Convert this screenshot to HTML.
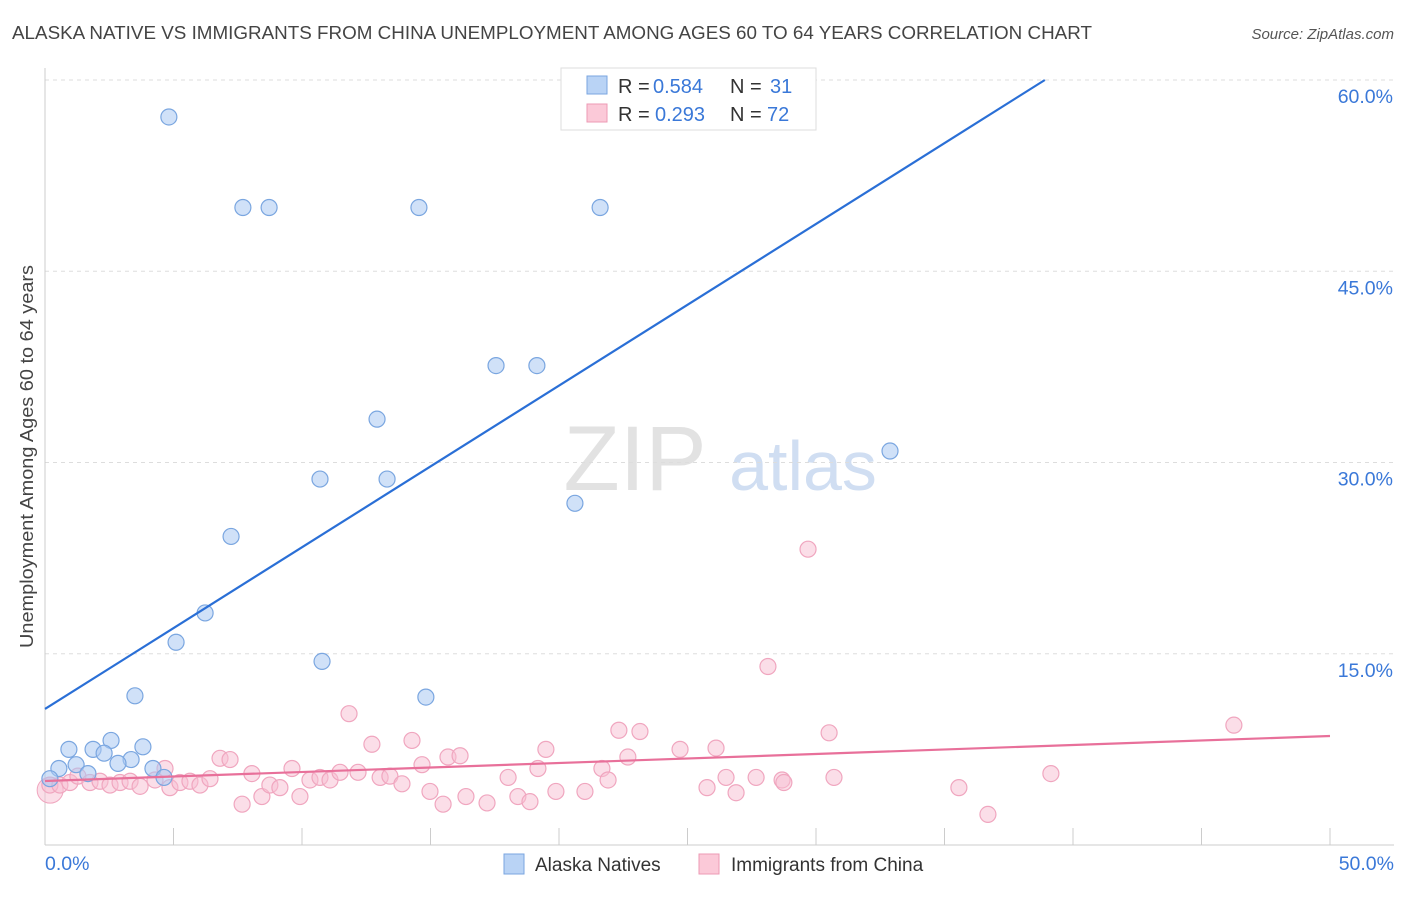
<!DOCTYPE html>
<html><head><meta charset="utf-8">
<style>
body{margin:0;background:#fff;font-family:"Liberation Sans",sans-serif;}
svg text{font-family:"Liberation Sans",sans-serif;}
</style></head>
<body>
<svg id="chart" width="1406" height="892" xmlns="http://www.w3.org/2000/svg">
<text x="12" y="39" font-size="18" fill="#444" textLength="1080" lengthAdjust="spacingAndGlyphs">ALASKA NATIVE VS IMMIGRANTS FROM CHINA UNEMPLOYMENT AMONG AGES 60 TO 64 YEARS CORRELATION CHART</text>
<text x="1394" y="39" font-size="15" fill="#555" text-anchor="end" font-style="italic">Source: ZipAtlas.com</text>
<text transform="translate(33,648) rotate(-90)" font-size="18" fill="#444" textLength="383" lengthAdjust="spacingAndGlyphs">Unemployment Among Ages 60 to 64 years</text>
<g>
<text x="635" y="490" font-size="92" fill="#e2e2e2" font-family="Liberation Serif" text-anchor="middle">ZIP</text>
<text x="803" y="490" font-size="70" fill="#d0def2" text-anchor="middle">atlas</text>
</g>
<g id="grid"></g><g id="axes"></g><g id="pts"></g><g id="lines"></g>
<g>
<rect x="561" y="68" width="255" height="62" fill="#fff" stroke="#ddd"/>
<rect x="587" y="76" width="20" height="18" fill="#b9d3f5" stroke="#7aa6e0"/>
<text x="618" y="93" font-size="20" fill="#333">R =</text>
<text x="653" y="93" font-size="20" fill="#3a78d8">0.584</text>
<text x="730" y="93" font-size="20" fill="#333">N =</text>
<text x="770" y="93" font-size="20" fill="#3a78d8">31</text>
<rect x="587" y="104" width="20" height="18" fill="#fbc9d8" stroke="#ec9ab4"/>
<text x="618" y="121" font-size="20" fill="#333">R =</text>
<text x="655" y="121" font-size="20" fill="#3a78d8">0.293</text>
<text x="730" y="121" font-size="20" fill="#333">N =</text>
<text x="767" y="121" font-size="20" fill="#3a78d8">72</text>
</g>
<g>
<rect x="504" y="854" width="20" height="20" fill="#b9d3f5" stroke="#7aa6e0"/>
<text x="535" y="871" font-size="19" fill="#333">Alaska Natives</text>
<rect x="699" y="854" width="20" height="20" fill="#fbc9d8" stroke="#ec9ab4"/>
<text x="731" y="871" font-size="19" fill="#333">Immigrants from China</text>
</g>
</svg>
<script>
const yTicks=[15,30,45,60];
const yTickLabels=["15.0%","30.0%","45.0%","60.0%"];
const xTicks=[0,5,10,15,20,25,30,35,40,45,50];
const blueX=[4.82,7.70,8.72,14.55,21.6,17.55,19.14,12.92,10.70,13.31,32.88,20.62,7.24,6.23,5.10,10.78,3.50,14.82,0.93,1.87,2.57,3.81,3.35,2.30,1.21,2.84,0.54,1.67,4.20,4.63,0.19];
const blueY=[57.1,50,50,50,50,37.6,37.6,33.4,28.7,28.7,30.9,26.8,24.2,18.2,15.9,14.4,11.7,11.6,7.5,7.5,8.2,7.7,6.7,7.2,6.3,6.4,6.0,5.6,6.0,5.3,5.2];
const pinkX=[0.19,0.58,0.97,1.28,1.75,2.14,2.53,2.92,3.31,3.70,4.28,4.67,4.86,5.25,5.64,6.03,6.42,6.81,7.20,7.67,8.05,8.44,8.75,9.14,9.61,9.92,10.31,10.70,11.09,11.48,11.83,12.18,12.72,13.04,13.42,13.89,14.28,14.67,14.98,15.49,15.68,16.15,16.38,17.20,18.02,18.40,18.87,19.18,19.49,19.88,21.01,21.67,21.91,22.33,22.68,23.15,24.71,25.76,26.11,26.50,26.89,27.67,28.13,28.68,28.75,29.69,30.51,30.70,35.56,36.69,39.14,46.26];
const pinkY=[4.7,4.7,4.9,5.4,4.9,5.0,4.7,4.9,5.0,4.6,5.1,6.0,4.5,4.9,5.0,4.7,5.2,6.8,6.7,3.2,5.6,3.8,4.7,4.5,6.0,3.8,5.1,5.3,5.1,5.7,10.3,5.7,7.9,5.3,5.4,4.8,8.2,6.3,4.2,3.2,6.9,7.0,3.8,3.3,5.3,3.8,3.4,6.0,7.5,4.2,4.2,6.0,5.1,9.0,6.9,8.9,7.5,4.5,7.6,5.3,4.1,5.3,14.0,5.1,4.9,23.2,8.8,5.3,4.5,2.4,5.6,9.4];
const blueFit=[10.67,1.268];
const pinkFit=[5.02,0.0706];
const NS="http://www.w3.org/2000/svg";
const xs=v=>45+v*25.7, ys=v=>845-v*12.75;
function mk(parent,tag,attrs){const e=document.createElementNS(NS,tag);for(const k in attrs)e.setAttribute(k,attrs[k]);document.getElementById(parent).appendChild(e);return e;}
yTicks.forEach((t,i)=>{
 const g=mk('grid','line',{x1:45,x2:1394,y1:ys(t),y2:ys(t),stroke:'#ddd','stroke-dasharray':'4,4'});
 
 
 const l=mk('axes','text',{x:1393,y:ys(t)+23,'text-anchor':'end','font-size':19.5,fill:'#3a78d8'});
 l.textContent=yTickLabels[i];
 
 
});
const ax=mk('axes','line',{x1:45,x2:1394,y1:845,y2:845,stroke:'#ccc'});


const ay=mk('axes','line',{x1:45,x2:45,y1:68,y2:845,stroke:'#ccc'});


xTicks.forEach(t=>{
 const tk=mk('axes','line',{x1:xs(t),x2:xs(t),y1:828,y2:845,stroke:'#ccc'});
 
 
});
const x0=mk('axes','text',{x:45,y:870,'font-size':19.5,fill:'#3a78d8'});x0.textContent='0.0%';


const x1=mk('axes','text',{x:1394,y:870,'font-size':19.5,fill:'#3a78d8','text-anchor':'end'});x1.textContent='50.0%';


const big=mk('pts','circle',{cx:xs(0.2),cy:ys(4.3),r:13,fill:'rgba(248,190,210,0.5)',stroke:'#f0a6bf'});


pinkX.forEach((v,i)=>{
 const c=mk('pts','circle',{cx:xs(v),cy:ys(pinkY[i]),r:8,fill:'rgba(248,190,210,0.5)',stroke:'#f0a6bf','stroke-width':1.2});
 
 
});
blueX.forEach((v,i)=>{
 const c=mk('pts','circle',{cx:xs(v),cy:ys(blueY[i]),r:8,fill:'rgba(170,200,242,0.55)',stroke:'#7aa6e0','stroke-width':1.2});
 
 
});
const bxEnd=(60-blueFit[0])/blueFit[1];
const bl=mk('lines','line',{x1:xs(0),y1:ys(blueFit[0]),x2:xs(bxEnd),y2:ys(60),stroke:'#2a6fd6','stroke-width':2.2});


const pl=mk('lines','line',{x1:xs(0),y1:ys(pinkFit[0]),x2:xs(50),y2:ys(pinkFit[0]+pinkFit[1]*50),stroke:'#e8709a','stroke-width':2.2});


</script>
</body></html>
